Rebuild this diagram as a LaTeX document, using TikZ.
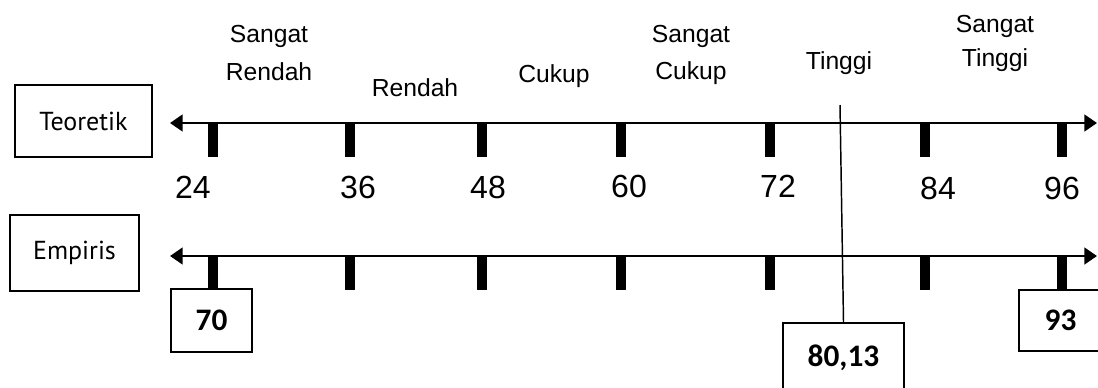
\documentclass[tikz,border=0pt]{standalone}
\usepackage{fontspec}
\setmainfont{Liberation Sans}
\newfontfamily\boxfont{PT Sans}
\newfontfamily\valfont{Carlito}
\usetikzlibrary{arrows.meta}
\begin{document}
\begin{tikzpicture}[x=0.75pt,y=-0.75pt,
  axis/.style={line width=2pt,{Triangle[length=9.5pt,width=12.5pt]}-{Triangle[length=9.5pt,width=12.5pt]}},
  tickbar/.style={line width=7.5pt},
  framebox/.style={draw,line width=1.4pt,inner sep=0pt},
  lvl/.style={inner sep=0pt,align=center},
  num/.style={inner sep=0pt,anchor=base,font=\fontsize{24}{28}\selectfont},
  val/.style={framebox,font=\valfont\bfseries\fontsize{23.5}{27}\selectfont},
  thin/.style={line width=1.1pt}]
\clip (0,0) rectangle (1098,387);
\fill[white] (0,0) rectangle (1098,387);

% category labels
\node[lvl,anchor=north,font=\fontsize{18.5}{28.5}\selectfont] (sr) at (269,25) {Sangat\\Rendah};
\node[lvl,anchor=base,font=\fontsize{18.5}{22}\selectfont] (r) at (415,96) {Rendah};
\node[lvl,anchor=base,font=\fontsize{18.5}{22}\selectfont] (c) at (554,82) {Cukup};
\node[lvl,anchor=north,font=\fontsize{18.5}{27.75}\selectfont] (sc) at (691,25) {Sangat\\Cukup};
\node[lvl,anchor=base,font=\fontsize{18.5}{22}\selectfont] (t) at (839,69) {Tinggi};
\node[lvl,anchor=north,font=\fontsize{18.5}{25.5}\selectfont] (st) at (995,15) {Sangat\\Tinggi};

% row boxes
\node[framebox,minimum width={137*0.75pt},minimum height={72*0.75pt},font=\boxfont\fontsize{19.5}{23}\selectfont] (teo) at (83.5,121) {Teoretik};
\node[framebox,minimum width={129*0.75pt},minimum height={76*0.75pt},font=\boxfont\fontsize{19.5}{23}\selectfont] (emp) at (74.5,253) {Empiris};

% axes
\coordinate (tl) at (170,123);
\coordinate (tr) at (1097,123);
\coordinate (bl) at (170,256);
\coordinate (br) at (1097,256);
\draw[axis] (tl) -- (tr);
\draw[axis] (bl) -- (br);

% top ticks
\foreach \n/\x in {24/213,36/350,48/482,60/621,72/770,84/925,96/1062}{
  \coordinate (ta\n) at (\x,123);
  \draw[tickbar] (ta\n) -- ++(0,34);
}
% numbers
\node[num] (n24) at (193,198) {24};
\node[num] (n36) at (358,198) {36};
\node[num] (n48) at (488,198) {48};
\node[num] (n60) at (629,197) {60};
\node[num] (n72) at (778,197) {72};
\node[num] (n84) at (938,199) {84};
\node[num] (n96) at (1062,199) {96};

% empirical value boxes
\node[val,minimum width={81*0.75pt},minimum height={63*0.75pt}] (e70) at (211.5,320.5) {70};
\node[val,minimum width={83*0.75pt},minimum height={61*0.75pt}] (e93) at (1060.5,320.5) {93};
\node[val,minimum width={121*0.75pt},minimum height={70*0.75pt}] (e80) at (843.5,358) {80,13};

% bottom ticks
\foreach \n/\x in {24/213,36/350,48/482,60/621,72/770,84/925,96/1062}{
  \coordinate (bb\n) at (\x,256);
}
\draw[tickbar] (bb24) -- (bb24 |- e70.north);
\foreach \n in {36,48,60,72,84}{
  \draw[tickbar] (bb\n) -- ++(0,34);
}
\draw[tickbar] (bb96) -- (bb96 |- e93.north);

% marker line for 80,13
\coordinate (mk) at (840,105);
\draw[thin] (mk) -- (e80.north);
\end{tikzpicture}
\end{document}
